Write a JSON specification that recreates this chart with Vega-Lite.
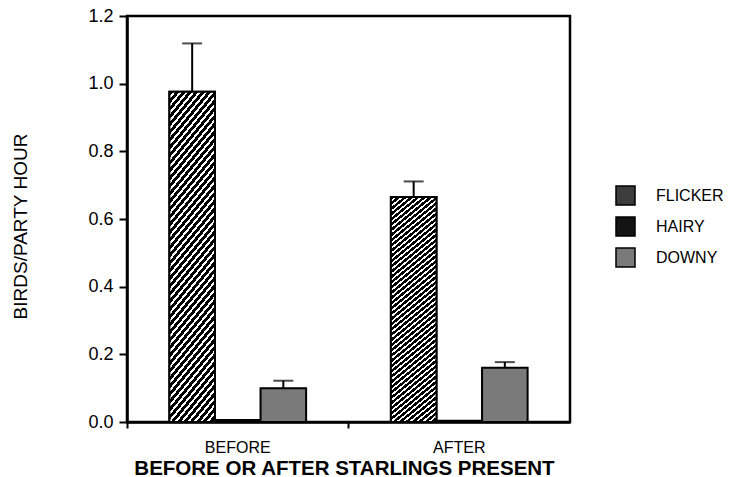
{
  "$schema": "https://vega.github.io/schema/vega-lite/v6.json",
  "width": 443,
  "height": 406,
  "autosize": "none",
  "padding": {"left": 127, "top": 16, "right": 162, "bottom": 55},
  "background": "white",
  "config": {
    "view": {"stroke": "black", "strokeWidth": 2.5},
    "font": "Liberation Sans"
  },
  "data": {
    "values": [
      {"period": "BEFORE", "species": "FLICKER", "value": 0.976, "upper": 1.119},
      {"period": "BEFORE", "species": "HAIRY", "value": 0.006, "upper": null},
      {"period": "BEFORE", "species": "DOWNY", "value": 0.100, "upper": 0.122},
      {"period": "AFTER", "species": "FLICKER", "value": 0.665, "upper": 0.711},
      {"period": "AFTER", "species": "HAIRY", "value": 0.004, "upper": null},
      {"period": "AFTER", "species": "DOWNY", "value": 0.160, "upper": 0.177}
    ]
  },
  "encoding": {
    "x": {
      "field": "period",
      "type": "nominal",
      "sort": ["BEFORE", "AFTER"],
      "scale": {"paddingInner": 0, "paddingOuter": 0},
      "axis": {
        "title": "BEFORE OR AFTER STARLINGS PRESENT",
        "labelAngle": 0,
        "bandPosition": 0,
        "tickSize": 6,
        "tickWidth": 2,
        "tickColor": "black",
        "domainColor": "black",
        "domainWidth": 2.5,
        "labelFontSize": 16,
        "labelColor": "black",
        "labelPadding": 11,
        "titleFontSize": 20.5,
        "titleFontWeight": "bold",
        "titleColor": "black",
        "titlePadding": 3,
        "titleX": 217,
        "grid": false
      }
    },
    "xOffset": {
      "field": "species",
      "type": "nominal",
      "sort": ["FLICKER", "HAIRY", "DOWNY"],
      "scale": {"paddingInner": 0, "paddingOuter": 0.93}
    }
  },
  "layer": [
    {
      "mark": {"type": "bar", "stroke": "black", "strokeWidth": 2},
      "encoding": {
        "y": {
          "field": "value",
          "type": "quantitative",
          "scale": {"domain": [0, 1.2], "nice": false},
          "axis": {
            "title": "BIRDS/PARTY HOUR",
            "values": [0, 0.1, 0.2, 0.3, 0.4, 0.5, 0.6, 0.7, 0.8, 0.9, 1.0, 1.1, 1.2],
            "format": ".1f",
            "labelExpr": "round(datum.value * 10) % 2 == 0 ? datum.label : ''",
            "tickSize": {"condition": {"test": "round(datum.value * 10) % 2 == 0", "value": 8}, "value": 5},
            "tickWidth": 2,
            "tickColor": "black",
            "domainColor": "black",
            "domainWidth": 2.5,
            "labelFontSize": 18,
            "labelColor": "black",
            "labelPadding": 6,
            "titleFont": "Liberation Sans",
            "titleFontSize": 19,
            "titleFontWeight": "normal",
            "titleColor": "black",
            "titlePadding": 57,
            "titleY": 210,
            "grid": false
          }
        },
        "color": {
          "field": "species",
          "type": "nominal",
          "sort": ["FLICKER", "HAIRY", "DOWNY"],
          "scale": {"domain": ["FLICKER", "HAIRY", "DOWNY"], "range": ["#3c3c3c", "#141414", "#7a7a7a"]},
          "legend": {
            "title": null,
            "orient": "none",
            "legendX": 488,
            "legendY": 169,
            "symbolType": "square",
            "symbolSize": 361,
            "symbolStrokeColor": "black",
            "symbolStrokeWidth": 1.5,
            "symbolOpacity": 1,
            "labelFontSize": 16,
            "labelColor": "black",
            "labelOffset": 20,
            "rowPadding": 6,
            "padding": 0
          }
        }
      }
    },
    {
      "transform": [{"filter": "datum.species == 'FLICKER'"}],
      "mark": {
        "type": "bar",
        "stroke": "black",
        "strokeWidth": 2,
        "fill": {"gradient": "linear", "x1": 0, "y1": 0, "x2": 0.1892, "y2": 1.1351, "stops": [
          {"offset": 0, "color": "#000"}, {"offset": 0.012, "color": "#000"}, {"offset": 0.012, "color": "#fff"}, {"offset": 0.02, "color": "#fff"},
          {"offset": 0.02, "color": "#000"}, {"offset": 0.032, "color": "#000"}, {"offset": 0.032, "color": "#fff"}, {"offset": 0.04, "color": "#fff"},
          {"offset": 0.04, "color": "#000"}, {"offset": 0.052, "color": "#000"}, {"offset": 0.052, "color": "#fff"}, {"offset": 0.06, "color": "#fff"},
          {"offset": 0.06, "color": "#000"}, {"offset": 0.072, "color": "#000"}, {"offset": 0.072, "color": "#fff"}, {"offset": 0.08, "color": "#fff"},
          {"offset": 0.08, "color": "#000"}, {"offset": 0.092, "color": "#000"}, {"offset": 0.092, "color": "#fff"}, {"offset": 0.1, "color": "#fff"},
          {"offset": 0.1, "color": "#000"}, {"offset": 0.112, "color": "#000"}, {"offset": 0.112, "color": "#fff"}, {"offset": 0.12, "color": "#fff"},
          {"offset": 0.12, "color": "#000"}, {"offset": 0.132, "color": "#000"}, {"offset": 0.132, "color": "#fff"}, {"offset": 0.14, "color": "#fff"},
          {"offset": 0.14, "color": "#000"}, {"offset": 0.152, "color": "#000"}, {"offset": 0.152, "color": "#fff"}, {"offset": 0.16, "color": "#fff"},
          {"offset": 0.16, "color": "#000"}, {"offset": 0.172, "color": "#000"}, {"offset": 0.172, "color": "#fff"}, {"offset": 0.18, "color": "#fff"},
          {"offset": 0.18, "color": "#000"}, {"offset": 0.192, "color": "#000"}, {"offset": 0.192, "color": "#fff"}, {"offset": 0.2, "color": "#fff"},
          {"offset": 0.2, "color": "#000"}, {"offset": 0.212, "color": "#000"}, {"offset": 0.212, "color": "#fff"}, {"offset": 0.22, "color": "#fff"},
          {"offset": 0.22, "color": "#000"}, {"offset": 0.232, "color": "#000"}, {"offset": 0.232, "color": "#fff"}, {"offset": 0.24, "color": "#fff"},
          {"offset": 0.24, "color": "#000"}, {"offset": 0.252, "color": "#000"}, {"offset": 0.252, "color": "#fff"}, {"offset": 0.26, "color": "#fff"},
          {"offset": 0.26, "color": "#000"}, {"offset": 0.272, "color": "#000"}, {"offset": 0.272, "color": "#fff"}, {"offset": 0.28, "color": "#fff"},
          {"offset": 0.28, "color": "#000"}, {"offset": 0.292, "color": "#000"}, {"offset": 0.292, "color": "#fff"}, {"offset": 0.3, "color": "#fff"},
          {"offset": 0.3, "color": "#000"}, {"offset": 0.312, "color": "#000"}, {"offset": 0.312, "color": "#fff"}, {"offset": 0.32, "color": "#fff"},
          {"offset": 0.32, "color": "#000"}, {"offset": 0.332, "color": "#000"}, {"offset": 0.332, "color": "#fff"}, {"offset": 0.34, "color": "#fff"},
          {"offset": 0.34, "color": "#000"}, {"offset": 0.352, "color": "#000"}, {"offset": 0.352, "color": "#fff"}, {"offset": 0.36, "color": "#fff"},
          {"offset": 0.36, "color": "#000"}, {"offset": 0.372, "color": "#000"}, {"offset": 0.372, "color": "#fff"}, {"offset": 0.38, "color": "#fff"},
          {"offset": 0.38, "color": "#000"}, {"offset": 0.392, "color": "#000"}, {"offset": 0.392, "color": "#fff"}, {"offset": 0.4, "color": "#fff"},
          {"offset": 0.4, "color": "#000"}, {"offset": 0.412, "color": "#000"}, {"offset": 0.412, "color": "#fff"}, {"offset": 0.42, "color": "#fff"},
          {"offset": 0.42, "color": "#000"}, {"offset": 0.432, "color": "#000"}, {"offset": 0.432, "color": "#fff"}, {"offset": 0.44, "color": "#fff"},
          {"offset": 0.44, "color": "#000"}, {"offset": 0.452, "color": "#000"}, {"offset": 0.452, "color": "#fff"}, {"offset": 0.46, "color": "#fff"},
          {"offset": 0.46, "color": "#000"}, {"offset": 0.472, "color": "#000"}, {"offset": 0.472, "color": "#fff"}, {"offset": 0.48, "color": "#fff"},
          {"offset": 0.48, "color": "#000"}, {"offset": 0.492, "color": "#000"}, {"offset": 0.492, "color": "#fff"}, {"offset": 0.5, "color": "#fff"},
          {"offset": 0.5, "color": "#000"}, {"offset": 0.512, "color": "#000"}, {"offset": 0.512, "color": "#fff"}, {"offset": 0.52, "color": "#fff"},
          {"offset": 0.52, "color": "#000"}, {"offset": 0.532, "color": "#000"}, {"offset": 0.532, "color": "#fff"}, {"offset": 0.54, "color": "#fff"},
          {"offset": 0.54, "color": "#000"}, {"offset": 0.552, "color": "#000"}, {"offset": 0.552, "color": "#fff"}, {"offset": 0.56, "color": "#fff"},
          {"offset": 0.56, "color": "#000"}, {"offset": 0.572, "color": "#000"}, {"offset": 0.572, "color": "#fff"}, {"offset": 0.58, "color": "#fff"},
          {"offset": 0.58, "color": "#000"}, {"offset": 0.592, "color": "#000"}, {"offset": 0.592, "color": "#fff"}, {"offset": 0.6, "color": "#fff"},
          {"offset": 0.6, "color": "#000"}, {"offset": 0.612, "color": "#000"}, {"offset": 0.612, "color": "#fff"}, {"offset": 0.62, "color": "#fff"},
          {"offset": 0.62, "color": "#000"}, {"offset": 0.632, "color": "#000"}, {"offset": 0.632, "color": "#fff"}, {"offset": 0.64, "color": "#fff"},
          {"offset": 0.64, "color": "#000"}, {"offset": 0.652, "color": "#000"}, {"offset": 0.652, "color": "#fff"}, {"offset": 0.66, "color": "#fff"},
          {"offset": 0.66, "color": "#000"}, {"offset": 0.672, "color": "#000"}, {"offset": 0.672, "color": "#fff"}, {"offset": 0.68, "color": "#fff"},
          {"offset": 0.68, "color": "#000"}, {"offset": 0.692, "color": "#000"}, {"offset": 0.692, "color": "#fff"}, {"offset": 0.7, "color": "#fff"},
          {"offset": 0.7, "color": "#000"}, {"offset": 0.712, "color": "#000"}, {"offset": 0.712, "color": "#fff"}, {"offset": 0.72, "color": "#fff"},
          {"offset": 0.72, "color": "#000"}, {"offset": 0.732, "color": "#000"}, {"offset": 0.732, "color": "#fff"}, {"offset": 0.74, "color": "#fff"},
          {"offset": 0.74, "color": "#000"}, {"offset": 0.752, "color": "#000"}, {"offset": 0.752, "color": "#fff"}, {"offset": 0.76, "color": "#fff"},
          {"offset": 0.76, "color": "#000"}, {"offset": 0.772, "color": "#000"}, {"offset": 0.772, "color": "#fff"}, {"offset": 0.78, "color": "#fff"},
          {"offset": 0.78, "color": "#000"}, {"offset": 0.792, "color": "#000"}, {"offset": 0.792, "color": "#fff"}, {"offset": 0.8, "color": "#fff"},
          {"offset": 0.8, "color": "#000"}, {"offset": 0.812, "color": "#000"}, {"offset": 0.812, "color": "#fff"}, {"offset": 0.82, "color": "#fff"},
          {"offset": 0.82, "color": "#000"}, {"offset": 0.832, "color": "#000"}, {"offset": 0.832, "color": "#fff"}, {"offset": 0.84, "color": "#fff"},
          {"offset": 0.84, "color": "#000"}, {"offset": 0.852, "color": "#000"}, {"offset": 0.852, "color": "#fff"}, {"offset": 0.86, "color": "#fff"},
          {"offset": 0.86, "color": "#000"}, {"offset": 0.872, "color": "#000"}, {"offset": 0.872, "color": "#fff"}, {"offset": 0.88, "color": "#fff"},
          {"offset": 0.88, "color": "#000"}, {"offset": 0.892, "color": "#000"}, {"offset": 0.892, "color": "#fff"}, {"offset": 0.9, "color": "#fff"},
          {"offset": 0.9, "color": "#000"}, {"offset": 0.912, "color": "#000"}, {"offset": 0.912, "color": "#fff"}, {"offset": 0.92, "color": "#fff"},
          {"offset": 0.92, "color": "#000"}, {"offset": 0.932, "color": "#000"}, {"offset": 0.932, "color": "#fff"}, {"offset": 0.94, "color": "#fff"},
          {"offset": 0.94, "color": "#000"}, {"offset": 0.952, "color": "#000"}, {"offset": 0.952, "color": "#fff"}, {"offset": 0.96, "color": "#fff"},
          {"offset": 0.96, "color": "#000"}, {"offset": 0.972, "color": "#000"}, {"offset": 0.972, "color": "#fff"}, {"offset": 0.98, "color": "#fff"},
          {"offset": 0.98, "color": "#000"}, {"offset": 0.992, "color": "#000"}, {"offset": 0.992, "color": "#fff"}, {"offset": 1, "color": "#fff"}
        ]}
      },
      "encoding": {
        "y": {"field": "value", "type": "quantitative"}
      }
    },
    {
      "transform": [{"filter": "isValid(datum.upper)"}],
      "mark": {"type": "rule", "strokeWidth": 2, "color": "black"},
      "encoding": {
        "y": {"field": "value", "type": "quantitative"},
        "y2": {"field": "upper"}
      }
    },
    {
      "transform": [{"filter": "isValid(datum.upper)"}],
      "mark": {"type": "tick", "color": "black", "thickness": 2, "size": 20},
      "encoding": {
        "y": {"field": "upper", "type": "quantitative"}
      }
    }
  ]
}
